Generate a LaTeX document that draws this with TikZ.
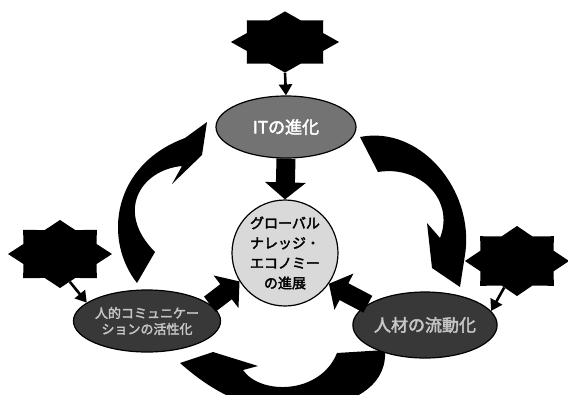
\documentclass[tikz,border=0pt]{standalone}
\usepackage{fontspec}
\newfontfamily\jpfont{Noto Sans CJK JP}[AutoFakeBold=2.5]
\usetikzlibrary{shapes.geometric, arrows.meta, positioning}

\begin{document}
\begin{tikzpicture}[
    x=1pt, y=-1pt,
    badge/.style={star, star points=8, star point ratio=1.31, fill=black, inner sep=0pt, minimum size=68pt, xscale=1.53},
    topic/.style={ellipse, draw=black, line width=1.2pt, inner sep=0pt, minimum width=140pt, minimum height=62pt, align=center},
    hintarrow/.style={-{Triangle[length=11pt, width=13pt]}, line width=2.6pt},
    fatarrow/.style={-{Triangle[length=17pt, width=40pt]}, line width=19pt},
    bigarrow/.style={fill=black}
]

% Frame
\clip (0,0) rectangle (568,394);

% Curved cycle arrows
\fill[bigarrow] (137,283) .. controls (103,240) and (112,165) .. (185,138) -- (207,122) -- (202,155) -- (172,184) -- (182,166)
    .. controls (140,170) and (115,212) .. (155,252) -- cycle;
\fill[bigarrow] (360,137) .. controls (420,125) and (475,190) .. (465,255) -- (460,287) -- (432,268) -- (427,223) -- (440,238)
    .. controls (455,200) and (420,165) .. (378,172) -- cycle;
\fill[bigarrow] (337,353) -- (385,350) .. controls (388,392) and (340,410) .. (290,410)
    .. controls (240,410) and (205,385) .. (180,363) -- (213,352) -- (258,366) -- (243,370)
    .. controls (260,395) and (320,395) .. (337,353) -- cycle;

% Stars
\node[badge, xscale=1.04, yscale=0.9] (topstar) at (285,42) {};
\node[badge] (leftstar) at (60,254) {};
\node[badge, yscale=1.03] (rightstar) at (517,261) {};

% Topics
\node[topic, fill=black!55, text=white, font=\jpfont\bfseries\fontsize{17}{19}\selectfont] (itnode) at (286,127) {ITの進化};
\node[topic, fill=black!78, text=gray!45, font=\jpfont\bfseries\fontsize{13}{16}\selectfont] (comnode) at (147,321) {人的コミュニケー\\ションの活性化};
\node[topic, fill=black!78, text=gray!45, minimum width=144pt, minimum height=66pt, font=\jpfont\bfseries\fontsize{17}{19}\selectfont] (flownode) at (425,325) {人材の流動化};

% Center
\node[circle, draw=black, line width=1.2pt, fill=gray!30, minimum size=106pt, inner sep=0pt, align=center,
    font=\jpfont\bfseries\fontsize{14}{20}\selectfont] (globe) at (285,253) {グローバル\\ナレッジ・\\エコノミー\\の進展};

% Arrows into topics
\draw[hintarrow] (topstar.south) -- (itnode.north);
\draw[hintarrow] (leftstar.-77) -- (comnode.163);
\draw[hintarrow] (rightstar.-108) -- (flownode.12);

% Arrows into center
\draw[fatarrow] (itnode.south) -- (globe.north);
\draw[fatarrow] (comnode.15) -- (globe.212);
\draw[fatarrow] (flownode.160) -- (globe.-35);

\end{tikzpicture}
\end{document}
